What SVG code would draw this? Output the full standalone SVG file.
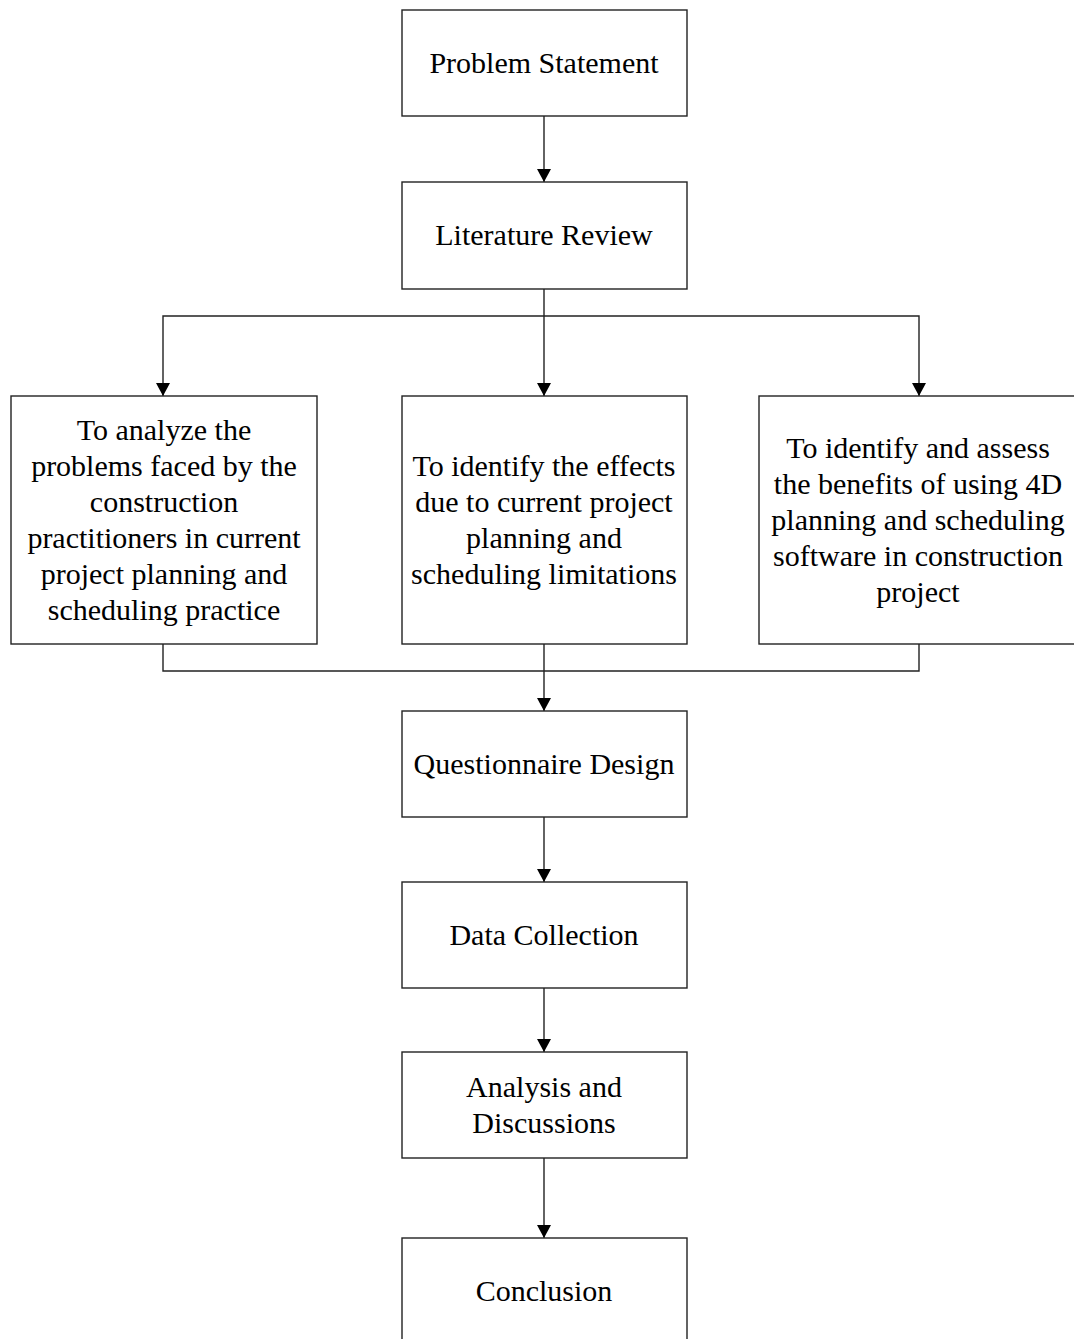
<svg xmlns="http://www.w3.org/2000/svg" width="1074" height="1339" viewBox="0 0 1074 1339">
<style>
.box{fill:#fff;stroke:#222;stroke-width:1.4}
.t{font-family:"Liberation Serif","Times New Roman",serif;font-size:30px;fill:#000;text-anchor:middle}
.c{fill:none;stroke:#222;stroke-width:1.4}
</style>
<defs>
<marker id="ah" markerWidth="13" markerHeight="14" refX="13" refY="7" orient="auto" markerUnits="userSpaceOnUse" viewBox="0 0 13 14">
<path d="M0,0 L13,7 L0,14 Z" fill="#000"/>
</marker>
</defs>
<rect width="1074" height="1339" fill="#fff"/>
<g id="connectors">
<path class="c" d="M544,116 V182" marker-end="url(#ah)"/>
<path class="c" d="M544,289 V396" marker-end="url(#ah)"/>
<path class="c" d="M544,316 H163 V396" marker-end="url(#ah)"/>
<path class="c" d="M544,316 H919 V396" marker-end="url(#ah)"/>
<path class="c" d="M163,644 V671 H919 V644"/>
<path class="c" d="M544,644 V711" marker-end="url(#ah)"/>
<path class="c" d="M544,817 V882" marker-end="url(#ah)"/>
<path class="c" d="M544,988 V1052" marker-end="url(#ah)"/>
<path class="c" d="M544,1158 V1238" marker-end="url(#ah)"/>
</g>
<g id="n1"><rect class="box" x="402" y="10" width="285" height="106"/><text class="t" x="544" y="73">Problem Statement</text></g>
<g id="n2"><rect class="box" x="402" y="182" width="285" height="107"/><text class="t" x="544" y="245">Literature Review</text></g>
<g id="n3"><rect class="box" x="11" y="396" width="306" height="248"/>
<text class="t"><tspan x="164" y="440">To analyze the</tspan><tspan x="164" y="476">problems faced by the</tspan><tspan x="164" y="512">construction</tspan><tspan x="164" y="548">practitioners in current</tspan><tspan x="164" y="584">project planning and</tspan><tspan x="164" y="620">scheduling practice</tspan></text></g>
<g id="n4"><rect class="box" x="402" y="396" width="285" height="248"/>
<text class="t"><tspan x="544" y="476">To identify the effects</tspan><tspan x="544" y="512">due to current project</tspan><tspan x="544" y="548">planning and</tspan><tspan x="544" y="584">scheduling limitations</tspan></text></g>
<g id="n5"><rect class="box" x="759" y="396" width="325" height="248"/>
<text class="t"><tspan x="918" y="458">To identify and assess</tspan><tspan x="918" y="494">the benefits of using 4D</tspan><tspan x="918" y="530">planning and scheduling</tspan><tspan x="918" y="566">software in construction</tspan><tspan x="918" y="602">project</tspan></text></g>
<g id="n6"><rect class="box" x="402" y="711" width="285" height="106"/><text class="t" x="544" y="774">Questionnaire Design</text></g>
<g id="n7"><rect class="box" x="402" y="882" width="285" height="106"/><text class="t" x="544" y="945">Data Collection</text></g>
<g id="n8"><rect class="box" x="402" y="1052" width="285" height="106"/><text class="t"><tspan x="544" y="1097">Analysis and</tspan><tspan x="544" y="1133">Discussions</tspan></text></g>
<g id="n9"><rect class="box" x="402" y="1238" width="285" height="110"/><text class="t" x="544" y="1301">Conclusion</text></g>
</svg>
